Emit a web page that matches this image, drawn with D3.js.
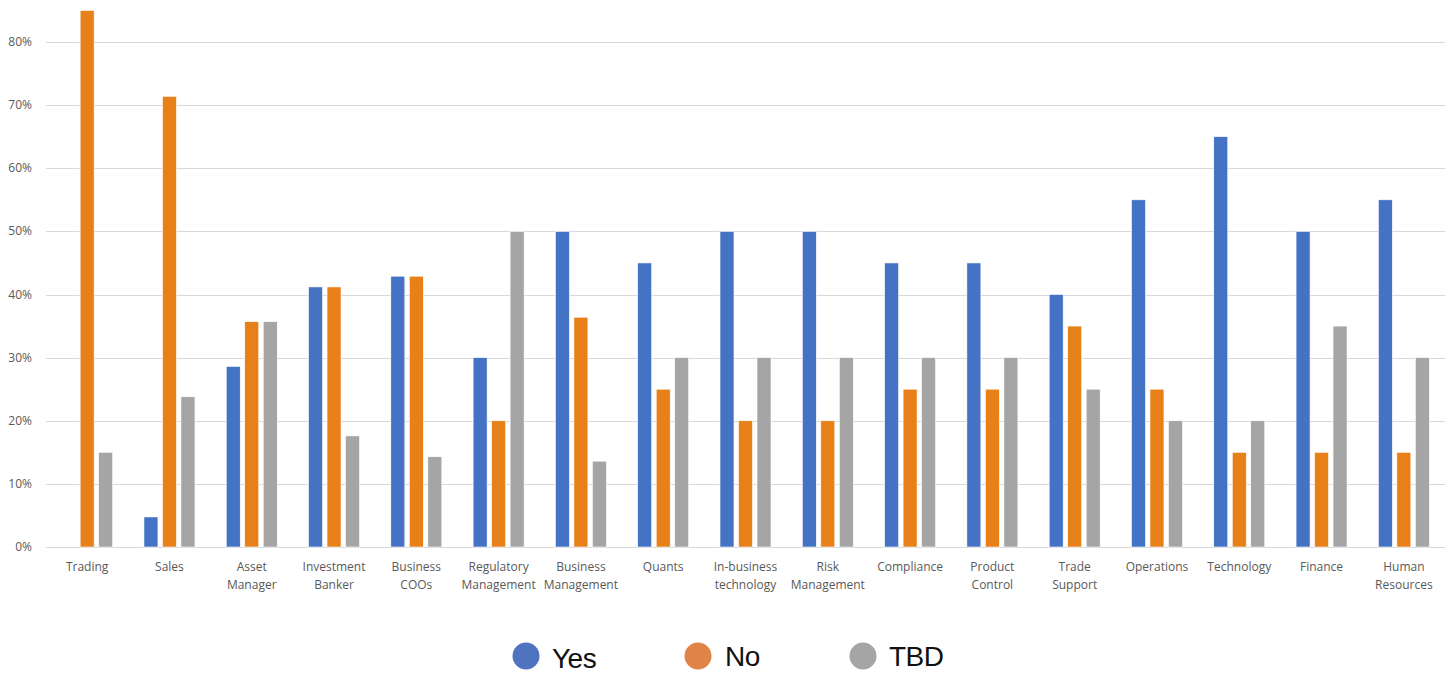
<!DOCTYPE html>
<html><head><meta charset="utf-8">
<script src="https://cdn.jsdelivr.net/npm/d3@7/dist/d3.min.js"></script>
<style>
html,body{margin:0;padding:0;background:#fff;}
svg{display:block;}
</style></head>
<body>
<svg id="chart" width="1455" height="673"></svg>
<script>
const categories = [
  ["Trading"], ["Sales"], ["Asset","Manager"], ["Investment","Banker"], ["Business","COOs"],
  ["Regulatory","Management"], ["Business","Management"], ["Quants"], ["In-business","technology"],
  ["Risk","Management"], ["Compliance"], ["Product","Control"], ["Trade","Support"],
  ["Operations"], ["Technology"], ["Finance"], ["Human","Resources"]
];
const yesValues = [0, 4.76, 28.6, 41.2, 42.9, 30, 50, 45, 50, 50, 45, 45, 40, 55, 65, 50, 55];
const noValues  = [85, 71.4, 35.7, 41.2, 42.9, 20, 36.4, 25, 20, 20, 25, 25, 35, 25, 15, 15, 15];
const tbdValues = [15, 23.8, 35.7, 17.6, 14.3, 50, 13.6, 30, 30, 30, 30, 30, 25, 20, 20, 35, 30];
const seriesNames = ["Yes", "No", "TBD"];
const yTicks = [0, 10, 20, 30, 40, 50, 60, 70, 80];

const barColors = ["#4472C4", "#E8801A", "#A5A5A5"];
const legendColors = ["#4F73BE", "#E08447", "#A5A5A5"];
const series = [yesValues, noValues, tbdValues];

const svg = d3.select("#chart");
const left = 46, right = 1445, y0 = 547, y80 = 42;

const x = d3.scaleBand().domain(d3.range(categories.length)).range([left, right]).paddingInner(0).paddingOuter(0);
const y = d3.scaleLinear().domain([0, 80]).range([y0, y80]);

// gridlines
svg.append("g").selectAll("line").data(yTicks).join("line")
  .attr("x1", left).attr("x2", right)
  .attr("y1", d => Math.round(y(d)) + 0.5).attr("y2", d => Math.round(y(d)) + 0.5)
  .attr("stroke", "#D9D9D9").attr("stroke-width", 1);

// y labels
svg.append("g").selectAll("text").data(yTicks).join("text")
  .attr("x", 32).attr("y", d => y(d) + 4)
  .attr("text-anchor", "end")
  .attr("font-family", "'Open Sans', sans-serif").attr("font-size", 12)
  .attr("fill", "#595959")
  .text(d => d + "%");

// bars
const barW = 14, step = 18.5;
const groups = svg.append("g");
series.forEach((vals, si) => {
  groups.append("g").selectAll("rect").data(vals).join("rect")
    .attr("x", (d, i) => x(i) + x.bandwidth() / 2 + (si - 1) * step - barW / 2)
    .attr("y", d => y(d))
    .attr("width", barW)
    .attr("height", d => y0 - y(d))
    .attr("fill", barColors[si])
    .attr("stroke", "#fff").attr("stroke-width", 0.6)
    .attr("display", d => d > 0 ? null : "none");
});

// x labels
const xl = svg.append("g").selectAll("text").data(categories).join("text")
  .attr("x", (d, i) => x(i) + x.bandwidth() / 2)
  .attr("y", 571)
  .attr("text-anchor", "middle")
  .attr("font-family", "'Open Sans', sans-serif").attr("font-size", 12)
  .attr("fill", "#595959");
xl.each(function(d) {
  const t = d3.select(this);
  d.forEach((line, k) => {
    t.append("tspan").attr("x", t.attr("x")).attr("dy", k === 0 ? 0 : 18).text(line);
  });
});

// legend
const legendPos = [{cx: 526, tx: 552}, {cx: 698, tx: 725}, {cx: 863, tx: 889}];
const lg = svg.append("g");
seriesNames.forEach((name, i) => {
  lg.append("circle").attr("cx", legendPos[i].cx).attr("cy", 656).attr("r", 13.5).attr("fill", legendColors[i]);
  lg.append("text").attr("x", legendPos[i].tx).attr("y", i === 0 ? 668 : 666)
    .attr("font-family", "'Liberation Sans', Arial, sans-serif").attr("font-size", 28)
    .attr("letter-spacing", -0.5)
    .attr("fill", "#111").text(name);
});
</script>
</body></html>
